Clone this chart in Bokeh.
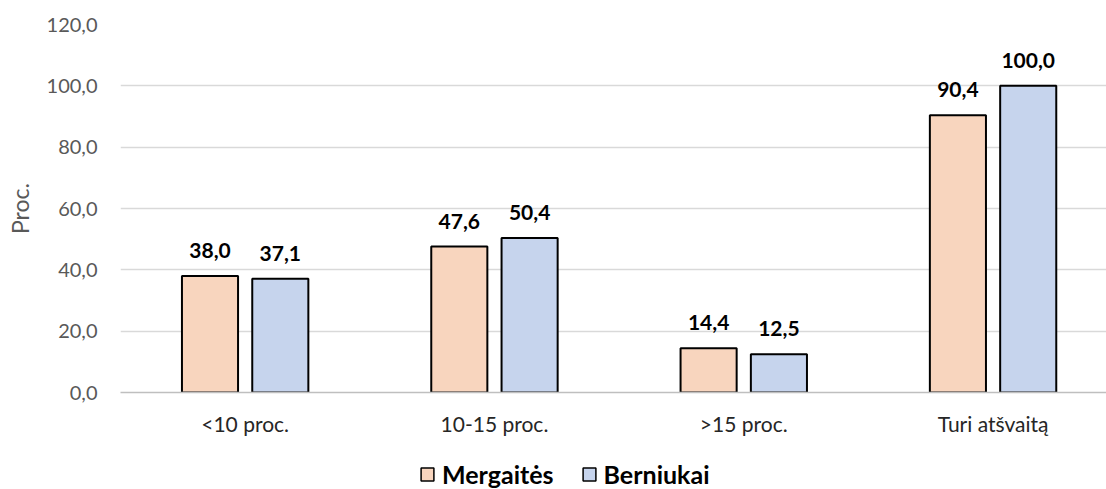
from bokeh.plotting import figure
from bokeh.models import (ColumnDataSource, LabelSet, Legend, LegendItem,
                          FixedTicker, Range1d)
from bokeh.core.properties import value
from bokeh.layouts import column
from bokeh.embed import file_html
from bokeh.resources import INLINE

categories = ["<10 proc.", "10-15 proc.", ">15 proc.", "Turi atšvaitą"]
mergaites = [38.0, 47.6, 14.4, 90.4]
berniukai = [37.1, 50.4, 12.5, 100.0]
series_names = ["Mergaitės", "Berniukai"]
series_colors = ["#F8D5BE", "#C6D4ED"]
y_ticks = [0, 20, 40, 60, 80, 100, 120]

def fmt(v):
    return f"{v:.1f}".replace(".", ",")

# category slots: category i is centred at i + 0.5
centers = [i + 0.5 for i in range(len(categories))]
off = 0.141
w = 0.225

src = ColumnDataSource(dict(
    xm=[c - off for c in centers],
    xb=[c + off for c in centers],
    m=mergaites,
    b=berniukai,
    m_lbl=[fmt(v) for v in mergaites],
    b_lbl=[fmt(v) for v in berniukai],
))

FONT = "Lato"
TXT = "#595959"

# the original plot area runs a little past the right edge of the picture
p = figure(x_range=Range1d(0, 3.955), y_range=Range1d(0, 120),
           width=1106, height=440, output_backend="svg", toolbar_location=None,
           min_border_left=120, min_border_right=0, min_border_top=24, min_border_bottom=48)
p.outline_line_color = None
p.background_fill_color = "white"

r1 = p.vbar(x="xm", top="m", width=w, source=src,
            fill_color=series_colors[0], line_color="black", line_width=2)
r2 = p.vbar(x="xb", top="b", width=w, source=src,
            fill_color=series_colors[1], line_color="black", line_width=2)

for xcol, col, lbl in (("xm", "m", "m_lbl"), ("xb", "b", "b_lbl")):
    p.add_layout(LabelSet(x=xcol, y=col, text=lbl, source=src,
                          text_align="center", text_baseline="bottom", y_offset=18,
                          text_font=value(FONT), text_font_size="21px", text_font_style="bold",
                          text_color="black"))

p.yaxis.ticker = FixedTicker(ticks=y_ticks)
p.yaxis.major_label_overrides = {t: fmt(t) for t in y_ticks}
p.yaxis.axis_line_color = None
p.yaxis.major_tick_line_color = None
p.yaxis.minor_tick_line_color = None
p.yaxis.major_tick_out = 0
p.yaxis.major_label_text_font = FONT
p.yaxis.major_label_text_font_size = "20px"
p.yaxis.major_label_text_color = TXT
p.yaxis.major_label_standoff = 23
p.yaxis.axis_label = "Proc."
p.yaxis.axis_label_text_font = FONT
p.yaxis.axis_label_text_font_size = "23px"
p.yaxis.axis_label_text_font_style = "normal"
p.yaxis.axis_label_text_color = TXT
p.yaxis.axis_label_standoff = 10

p.xaxis.ticker = FixedTicker(ticks=centers)
p.xaxis.major_label_overrides = {c: cat for c, cat in zip(centers, categories)}
p.xaxis.axis_line_color = "#BFBFBF"
p.xaxis.axis_line_width = 1.5
p.xaxis.major_tick_line_color = None
p.xaxis.minor_tick_line_color = None
p.xaxis.major_tick_out = 0
p.xaxis.major_label_text_font = FONT
p.xaxis.major_label_text_font_size = "21px"
p.xaxis.major_label_text_color = "#262626"
p.xaxis.major_label_standoff = 18

p.xgrid.grid_line_color = None
p.ygrid.grid_line_color = "#D9D9D9"
p.ygrid.grid_line_width = 1.5

# legend strip below the chart (swatch renderers carry no drawable bar)
lg = figure(width=1106, height=49, output_backend="svg", toolbar_location=None,
            x_axis_type=None, y_axis_type=None, x_range=Range1d(0, 1), y_range=Range1d(0, 1),
            min_border_left=120, min_border_right=0, min_border_top=0, min_border_bottom=0)
lg.outline_line_color = None
lg.xgrid.grid_line_color = None
lg.ygrid.grid_line_color = None
nan = float("nan")
d1 = lg.vbar(x=[0.5], top=[nan], bottom=[nan], width=0.1,
             fill_color=series_colors[0], line_color="black", line_width=1.5)
d2 = lg.vbar(x=[0.5], top=[nan], bottom=[nan], width=0.1,
             fill_color=series_colors[1], line_color="black", line_width=1.5)
legend = Legend(items=[LegendItem(label=series_names[0], renderers=[d1]),
                       LegendItem(label=series_names[1], renderers=[d2])],
                orientation="horizontal", location=(299, 0),
                label_text_font=FONT, label_text_font_size="25px", label_text_font_style="bold",
                label_text_color="black", glyph_width=16, glyph_height=16,
                spacing=27, label_standoff=7, border_line_color=None,
                background_fill_alpha=0, padding=0, margin=0)
lg.add_layout(legend)

open("out.html", "w").write(file_html(column(p, lg, spacing=0), INLINE))
